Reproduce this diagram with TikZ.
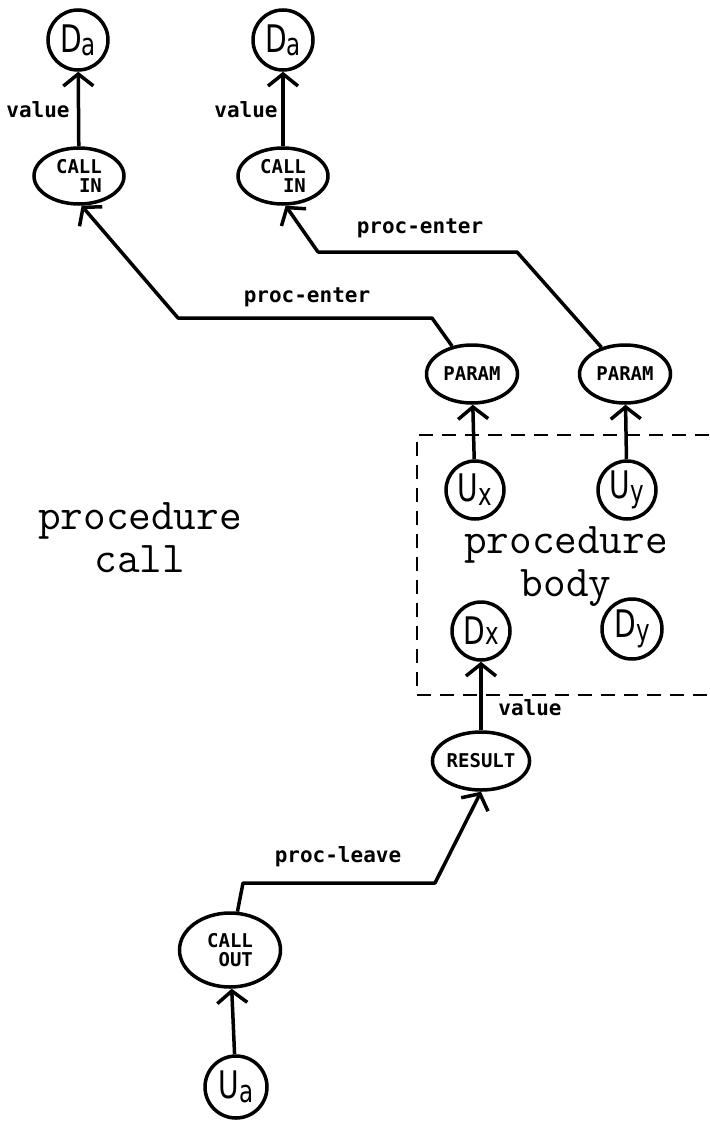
\documentclass[tikz,border=0pt]{standalone}
\usepackage{fontspec}
\usepackage{graphicx}
\usetikzlibrary{shapes.geometric,arrows.meta}
\newfontfamily\lblfont{DejaVu Sans Mono}
\newfontfamily\symfont{DejaVu Sans}
\newcommand{\circsym}[3]{{\symfont\fontsize{38}{38}\selectfont\scalebox{0.74}[1]{#1\raisebox{#3}{\fontsize{31}{31}\selectfont #2}}}}
\begin{document}
\begin{tikzpicture}[x=1pt,y=-1pt,
  circ/.style={circle,draw,line width=3.5pt,minimum size=60pt,inner sep=0pt},
  ell/.style={ellipse,draw,line width=3.5pt,inner sep=0pt,font={\lblfont\bfseries\fontsize{19}{19}\selectfont},align=right},
  arr/.style={line width=3.5pt,-{Straight Barb[length=12pt,width=30pt]}},
  lbl/.style={font={\lblfont\bfseries\fontsize{21}{21}\selectfont},inner sep=0pt},
  big/.style={font={\ttfamily\fontsize{44}{43}\selectfont},align=center,inner sep=0pt},
  box/.style={line width=2.5pt,dash pattern=on 14pt off 9pt}]
\useasboundingbox (0,0) rectangle (709,1121);
% nodes
\node[circ] (da1) at (78,40) {\circsym{D}{a}{-3pt}};
\node[circ] (da2) at (283,40) {\circsym{D}{a}{-3pt}};
\node[ell,minimum width=90pt,minimum height=56pt] (ci1) at (79,176) {CALL\\IN};
\node[ell,minimum width=90pt,minimum height=56pt] (ci2) at (283,176) {CALL\\IN};
\node[ell,minimum width=91pt,minimum height=58pt] (p1) at (472,374) {PARAM};
\node[ell,minimum width=91pt,minimum height=58pt] (p2) at (625,374) {PARAM};
\node[circ,minimum size=58pt] (ux) at (475,490) {\circsym{U}{x}{-4pt}};
\node[circ,minimum size=58pt] (uy) at (627,490) {\circsym{U}{y}{-4pt}};
\node[circ,minimum size=58pt] (dx) at (481,631) {\circsym{D}{x}{0pt}};
\node[circ,minimum size=60pt] (dy) at (632,629) {\circsym{D}{y}{-4pt}};
\node[ell,minimum width=92pt,minimum height=58pt] (res) at (481,761) {RESULT};
\node[ell,minimum width=101pt,minimum height=74pt] (co) at (230,950) {CALL\\OUT};
\node[circ,minimum size=62pt] (ua) at (236,1087) {\circsym{U}{a}{-4pt}};
% labels
\node[lbl] (v1) at (38,110) {value};
\node[lbl] (v2) at (246,110) {value};
\node[lbl] (v3) at (530,708) {value};
\node[lbl] (pe1) at (307,297) {proc-enter};
\node[lbl] (pe2) at (420,228) {proc-enter};
\node[lbl] (pl) at (338,857) {proc-leave};
\node[big] (pc) at (140,538) {procedure\\call};
\node[big] (pb) at (566,567) {procedure\\body};
% dashed box
\draw[box] (709,435) -- (417,435) -- (417,695) -- (709,695);
% connectors
\draw[arr] (ci1) -- (da1);
\draw[arr] (ci2) -- (da2);
\draw[arr] (ux) -- (p1);
\draw[arr] (uy) -- (p2);
\draw[arr] (res) -- (dx);
\draw[arr] (ua) -- (co);
\coordinate (e1a) at (432,318);
\coordinate (e1b) at (178,318);
\draw[arr,line join=round] (p1) -- (e1a) -- (e1b) -- (ci1.-85);
\coordinate (e2a) at (517,252);
\coordinate (e2b) at (318,252);
\draw[arr,line join=round] (p2) -- (e2a) -- (e2b) -- (ci2.-85);
\coordinate (l1) at (243,883);
\coordinate (l2) at (435,883);
\draw[arr,line join=round] (co) -- (l1) -- (l2) -- (res.south);
\end{tikzpicture}
\end{document}
